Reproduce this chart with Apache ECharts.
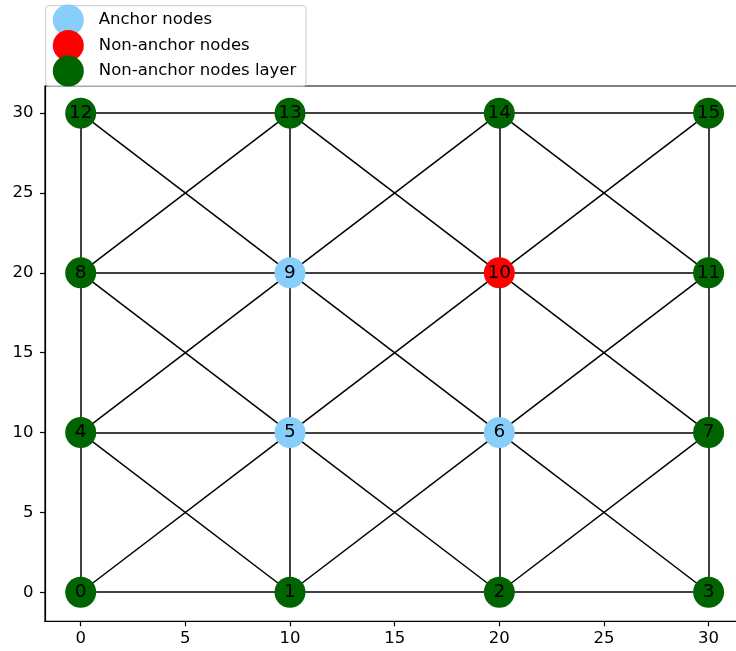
<!DOCTYPE html>
<html>
<head>
<meta charset="utf-8">
<script src="https://cdn.jsdelivr.net/npm/echarts@6/dist/echarts.min.js"></script>
<style>
  html, body { margin: 0; padding: 0; background: #fff; }
  #chart { width: 736px; height: 651px; }
</style>
</head>
<body>
<div id="chart"></div>
<script>
// Node positions (id = index)
const nodeX = [0, 10, 20, 30, 0, 10, 20, 30, 0, 10, 20, 30, 0, 10, 20, 30];
const nodeY = [0, 0, 0, 0, 10, 10, 10, 10, 20, 20, 20, 20, 30, 30, 30, 30];

// Node groups
const anchorNodes = [5, 6, 9];
const nonAnchorNodes = [10];
const layerNodes = [0, 1, 2, 3, 4, 7, 8, 11, 12, 13, 14, 15];

const groupNames = ['Anchor nodes', 'Non-anchor nodes', 'Non-anchor nodes layer'];
const groupColors = ['#87cefa', '#ff0000', '#006400'];

// Undirected edges
const edges = [
  [0, 1], [1, 2], [2, 3], [4, 5], [5, 6], [6, 7],
  [8, 9], [9, 10], [10, 11], [12, 13], [13, 14], [14, 15],
  [0, 4], [4, 8], [8, 12], [1, 5], [5, 9], [9, 13],
  [2, 6], [6, 10], [10, 14], [3, 7], [7, 11], [11, 15],
  [0, 5], [1, 4], [1, 6], [2, 5], [2, 7], [3, 6],
  [4, 9], [5, 8], [5, 10], [6, 9], [6, 11], [7, 10],
  [8, 13], [9, 12], [9, 14], [10, 13], [10, 15], [11, 14]
];

// Axis tick values
const xTicks = [0, 5, 10, 15, 20, 25, 30];
const yTicks = [0, 5, 10, 15, 20, 25, 30];

const FONT = 'DejaVu Sans';

function nodeSeries(name, ids, color) {
  return {
    type: 'scatter',
    name: name,
    z: 3,
    symbol: 'circle',
    symbolSize: 31,
    itemStyle: { color: color, opacity: 1 },
    label: {
      show: true,
      position: 'inside',
      color: '#000',
      fontFamily: FONT,
      fontSize: 18.5,
      formatter: p => String(p.value[2])
    },
    emphasis: { disabled: true },
    data: ids.map(id => [nodeX[id], nodeY[id], id])
  };
}

const axisCommon = {
  splitLine: { show: false },
  axisLine: { show: true, onZero: false, lineStyle: { color: '#000', width: 1.2 } },
  axisTick: { show: true, inside: false, length: 5, lineStyle: { color: '#000', width: 1.2 } },
  axisLabel: { color: '#000', fontFamily: FONT, fontSize: 16.5, margin: 9 }
};

const chart = echarts.init(document.getElementById('chart'), null, { renderer: 'canvas' });

chart.setOption({
  animation: false,
  backgroundColor: '#fff',
  grid: {
    left: 45, top: 86, width: 699.3, height: 535.3,
    outerBoundsMode: 'none',
    containLabel: false,
    show: true, borderColor: '#000', borderWidth: 1.2, backgroundColor: 'transparent'
  },
  xAxis: Object.assign({}, axisCommon, {
    type: 'value', min: -1.706, max: 31.706,
    axisTick: Object.assign({}, axisCommon.axisTick, { customValues: xTicks }),
    axisLabel: Object.assign({}, axisCommon.axisLabel, { customValues: xTicks })
  }),
  yAxis: Object.assign({}, axisCommon, {
    type: 'value', min: -1.82, max: 31.70,
    axisTick: Object.assign({}, axisCommon.axisTick, { customValues: yTicks }),
    axisLabel: Object.assign({}, axisCommon.axisLabel, { customValues: yTicks, margin: 11.5 })
  }),
  graphic: [{
    type: 'rect',
    z: 3,
    shape: { x: 45.7, y: 5.7, width: 260.3, height: 80.3, r: 3 },
    style: { fill: 'rgba(255,255,255,0.8)', stroke: '#cccccc', lineWidth: 1 }
  }],
  legend: {
    z: 5,
    orient: 'vertical',
    left: 52.8,
    top: 4.5,
    padding: 0,
    icon: 'circle',
    itemWidth: 31,
    itemHeight: 31,
    itemGap: -5.5,
    selectedMode: false,
    textStyle: { color: '#000', fontFamily: FONT, fontSize: 16.5, padding: [0, 0, 0, 10] },
    data: groupNames
  },
  series: [
    {
      type: 'lines',
      coordinateSystem: 'cartesian2d',
      z: 1,
      silent: true,
      lineStyle: { color: '#000', width: 1.5, opacity: 1 },
      data: edges.map(([a, b]) => ({ coords: [[nodeX[a], nodeY[a]], [nodeX[b], nodeY[b]]] }))
    },
    nodeSeries(groupNames[0], anchorNodes, groupColors[0]),
    nodeSeries(groupNames[1], nonAnchorNodes, groupColors[1]),
    nodeSeries(groupNames[2], layerNodes, groupColors[2])
  ]
});
</script>
</body>
</html>
